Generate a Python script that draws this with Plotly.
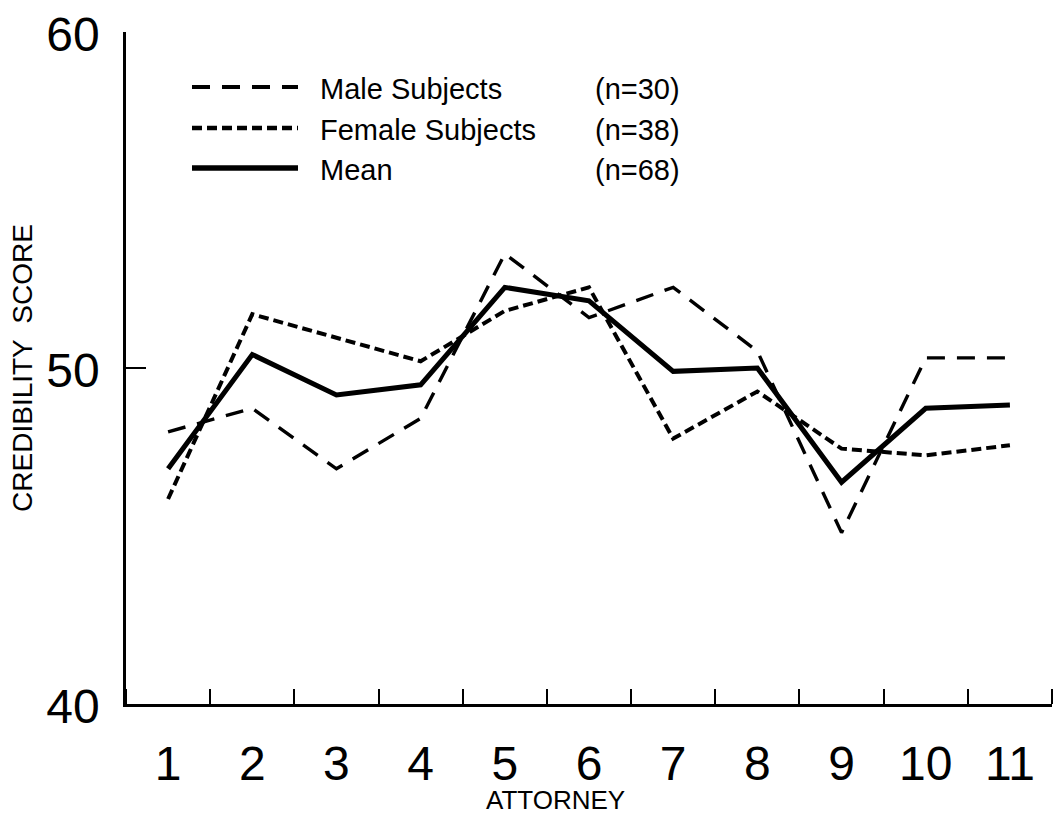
import plotly.graph_objects as go

# Attorney number on the x axis, credibility score on the y axis
attorneys = [1, 2, 3, 4, 5, 6, 7, 8, 9, 10, 11]
male_scores = [48.1, 48.8, 47.0, 48.5, 53.4, 51.5, 52.4, 50.5, 45.1, 50.3, 50.3]
female_scores = [46.1, 51.6, 50.9, 50.2, 51.7, 52.4, 47.9, 49.3, 47.6, 47.4, 47.7]
mean_scores = [47.0, 50.4, 49.2, 49.5, 52.4, 52.0, 49.9, 50.0, 46.6, 48.8, 48.9]

series_names = ["Male Subjects", "Female Subjects", "Mean"]
series_counts = ["(n=30)", "(n=38)", "(n=68)"]
y_tick_values = [40, 50, 60]

W, H = 1053, 815
ML, MR, MT, MB = 126, 1, 32, 111
FONT = "Liberation Sans, Arial, Helvetica, sans-serif"

styles = [
    dict(color="black", width=3.4, dash="18px,12px"),
    dict(color="black", width=4, dash="10px,5px"),
    dict(color="black", width=5, dash="solid"),
]

fig = go.Figure()
for name, ys, st in zip(series_names, [male_scores, female_scores, mean_scores], styles):
    fig.add_trace(go.Scatter(x=attorneys, y=ys, mode="lines", name=name,
                             line=st, showlegend=False))


def px_x(p):
    return (p - ML) / (W - ML - MR)


def px_y(p):
    return (H - MB - p) / (H - MT - MB)


# Hand-drawn key in the upper left of the plot
key_rows = [87, 128, 168]
for name, count, st, row in zip(series_names, series_counts, styles, key_rows):
    fig.add_shape(type="line", xref="paper", yref="paper",
                  x0=px_x(192), x1=px_x(298), y0=px_y(row), y1=px_y(row),
                  line=dict(color="black", width=st["width"] + 0.5, dash=st["dash"]))
    fig.add_annotation(xref="paper", yref="paper", x=px_x(318), y=px_y(row + 2),
                       text=name, showarrow=False, xanchor="left", yanchor="middle",
                       font=dict(family=FONT, size=29, color="black"))
    fig.add_annotation(xref="paper", yref="paper", x=px_x(593), y=px_y(row + 2),
                       text=count, showarrow=False, xanchor="left", yanchor="middle",
                       font=dict(family=FONT, size=29, color="black"))

# x-axis title sits below the attorney numbers
fig.add_annotation(xref="paper", yref="paper", x=px_x(555), y=px_y(800),
                   text="ATTORNEY", showarrow=False, xanchor="center", yanchor="middle",
                   font=dict(family=FONT, size=26, color="black"))

fig.update_layout(
    width=W, height=H,
    margin=dict(l=ML, r=MR, t=MT, b=MB),
    paper_bgcolor="white", plot_bgcolor="white",
    font=dict(family=FONT, color="black"),
    xaxis=dict(
        range=[0.5, 11.5], tickmode="array", tickvals=attorneys,
        ticktext=[str(a) for a in attorneys], ticks="",
        tickfont=dict(size=48), ticklabelstandoff=16,
        showgrid=False, zeroline=False, automargin=False,
        showline=True, linecolor="black", linewidth=2.5,
        minor=dict(tick0=0.5, dtick=1, ticks="inside", ticklen=15,
                   tickwidth=2, tickcolor="black", showgrid=False),
    ),
    yaxis=dict(
        range=[40, 60], tickmode="array", tickvals=y_tick_values,
        ticks="inside", ticklen=20, tickwidth=2, tickcolor="black",
        tickfont=dict(size=48), ticklabelstandoff=14, ticklabelshift=2,
        showgrid=False, zeroline=False, automargin=False,
        showline=True, linecolor="black", linewidth=2.5,
        title=dict(text="CREDIBILITY\u00a0\u00a0SCORE", font=dict(size=28), standoff=6),
    ),
)

fig.write_html("out.html")
